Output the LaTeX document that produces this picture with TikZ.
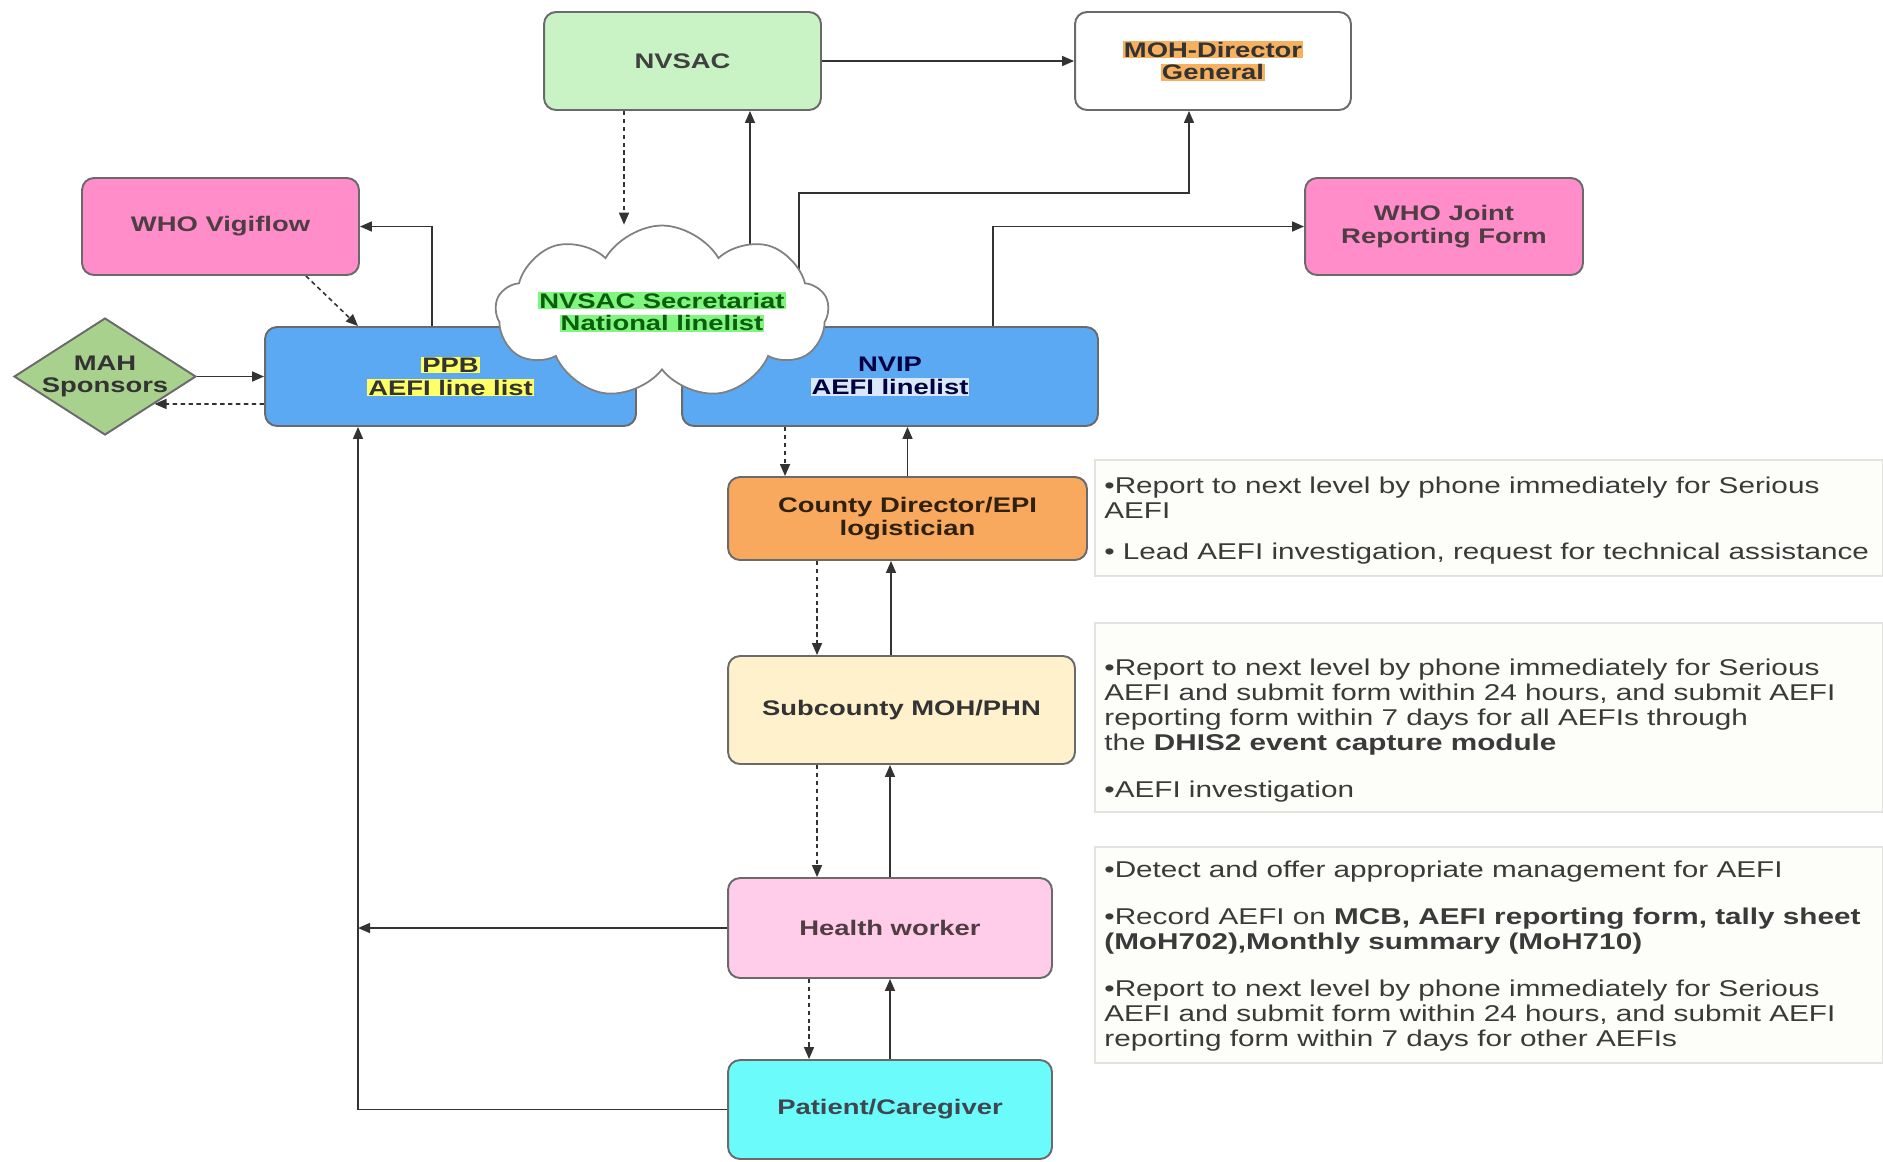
\documentclass[tikz,border=0pt]{standalone}
\usepackage{fontspec}
\setmainfont{Liberation Sans}[FakeStretch=1.3]
\usetikzlibrary{shapes.geometric,shapes.symbols,arrows.meta,backgrounds}

\definecolor{boxline}{HTML}{6A6A6A}
\definecolor{linegray}{HTML}{333333}
\definecolor{nvsacfill}{HTML}{C9F3C5}
\definecolor{whopink}{HTML}{FF8DC9}
\definecolor{mahgreen}{HTML}{A9D18E}
\definecolor{lineblue}{HTML}{5BA9F3}
\definecolor{countyorange}{HTML}{F8A95E}
\definecolor{subcream}{HTML}{FFF1CC}
\definecolor{hwpink}{HTML}{FFCCEA}
\definecolor{patcyan}{HTML}{6CFBFB}
\definecolor{ppbhl}{HTML}{FFFF66}
\definecolor{nviphl}{HTML}{D8E8F8}
\definecolor{mohhl}{HTML}{F5B060}
\definecolor{cloudhl}{HTML}{80F580}
\definecolor{cloudtxt}{HTML}{0B5E0B}
\definecolor{panelline}{HTML}{E2E2DE}
\definecolor{panelfill}{HTML}{FDFDFA}
\definecolor{notegray}{HTML}{3A3A3A}

\newcommand{\hlite}[2]{{\setlength{\fboxsep}{0.6pt}\colorbox{#1}{#2}}}

\begin{document}
\begin{tikzpicture}[x=0.02cm,y=-0.02cm,
	lbl/.style={align=center,font=\fontsize{12}{13}\selectfont\bfseries},
	box/.style={lbl,draw=boxline,line width=1.1pt,rounded corners=0.24cm,inner sep=2pt},
	arr/.style={draw=linegray,line width=0.9pt,-{Triangle[length=2.4mm,width=2mm]}},
	dotarr/.style={arr,dash pattern=on 2.5pt off 2pt},
	panel/.style={draw=panelline,fill=panelfill,line width=0.8pt},
	note/.style={anchor=north west,align=left,inner sep=0pt,text=notegray,font=\fontsize{13}{14.2}\selectfont}]

	\useasboundingbox (0,0) rectangle (1883,1161);

	\node[box,fill=nvsacfill,text=black!75,minimum width=5.54cm,minimum height=1.96cm] (nvsac) at (682.5,61) {NVSAC};
	\node[box,fill=white,text=black!80,minimum width=5.52cm,minimum height=1.96cm] (moh) at (1213,61) {\hlite{mohhl}{MOH-Director}\\\hlite{mohhl}{General}};
	\node[box,fill=whopink,text=black!80!magenta,minimum width=5.54cm,minimum height=1.94cm] (vigi) at (220.5,226.5) {WHO Vigiflow};
	\node[box,fill=whopink,text=black!80!magenta,minimum width=5.56cm,minimum height=1.94cm] (jrf) at (1444,226.5) {WHO Joint\\Reporting Form};

	\node[diamond,draw=boxline,line width=1.1pt,fill=mahgreen,inner sep=0pt,minimum width=3.64cm,minimum height=2.34cm] (mah) at (105,376.5) {};
	\node[lbl,text=black!80] (mahlbl) at (mah.center) {MAH\\Sponsors};

	\node[box,fill=lineblue,text=black!80,minimum width=7.42cm,minimum height=1.98cm] (ppb) at (450.5,376.5) {\hlite{ppbhl}{PPB}\\\hlite{ppbhl}{AEFI line list}};
	\node[box,fill=lineblue,text=black!75!blue,minimum width=8.32cm,minimum height=1.98cm] (nvip) at (890,376.5) {NVIP\\\hlite{nviphl}{AEFI linelist}};

	\node[cloud,cloud puffs=9,cloud puff arc=120,draw=black!50,line width=1pt,fill=white,inner sep=0pt,minimum width=6.66cm,minimum height=3.46cm] (cloud) at (662,312) {};
	\node[lbl,text=cloudtxt] (cloudlbl) at (cloud.center) {\hlite{cloudhl}{NVSAC Secretariat}\\\hlite{cloudhl}{National linelist}};

	\node[box,fill=countyorange,text=black!75!brown,minimum width=7.18cm,minimum height=1.66cm] (county) at (907.5,518.5) {County Director/EPI\\logistician};
	\node[box,fill=subcream,text=black!80,minimum width=6.94cm,minimum height=2.16cm] (subc) at (901.5,710) {Subcounty MOH/PHN};
	\node[box,fill=hwpink,text=black!80!magenta,minimum width=6.48cm,minimum height=2cm] (hw) at (890,928) {Health worker};
	\node[box,fill=patcyan,text=black!80!cyan,minimum width=6.48cm,minimum height=1.98cm] (pat) at (890,1109.5) {Patient/Caregiver};

	\coordinate (ret) at ([xshift=-1.85cm]ppb.south);

	\draw[panel] (1095,460) rectangle (1883,576);
	\draw[panel] (1095,623) rectangle (1883,812);
	\draw[panel] (1095,847) rectangle (1883,1063);

	\node[note] (note1) at (1104,477) {•Report to next level by phone immediately for Serious\\AEFI\\[0.32cm]• Lead AEFI investigation, request for technical assistance};
	\node[note] (note2) at (1104,659) {•Report to next level by phone immediately for Serious\\AEFI and submit form within 24 hours, and submit AEFI\\reporting form within 7 days for all AEFIs through\\the \textbf{DHIS2 event capture module}\\[0.44cm]•AEFI investigation};
	\node[note] (note3) at (1104,861) {•Detect and offer appropriate management for AEFI\\[0.44cm]•Record AEFI on \textbf{MCB, AEFI reporting form, tally sheet}\\\textbf{(MoH702),Monthly summary (MoH710)}\\[0.44cm]•Report to next level by phone immediately for Serious\\AEFI and submit form within 24 hours, and submit AEFI\\reporting form within 7 days for other AEFIs};

	\begin{scope}[on background layer]
	\draw[arr] (nvsac.east) -- (moh.west);
	\draw[dotarr] ([xshift=-1.17cm]nvsac.south) -- ([xshift=-1.17cm]nvsac.south |- cloud.north);
	\draw[arr] ([xshift=1.76cm]cloud.center) -- ([xshift=1.76cm]cloud.center |- nvsac.south);
	\draw[arr] ([xshift=2.74cm]cloud.center) |- ([xshift=-0.48cm,yshift=-1.64cm]moh.south) -- ([xshift=-0.48cm]moh.south);
	\draw[arr] ([xshift=2.06cm]nvip.north) |- (jrf.west);
	\draw[arr] ([xshift=-0.37cm]ppb.north) |- (vigi.east);
	\draw[dotarr] ([xshift=1.71cm]vigi.south) -- ([xshift=-1.85cm]ppb.north);
	\draw[arr] (mah.east) -- (ppb.west);
	\draw[dotarr] ([yshift=-0.55cm]ppb.west) -- (mah.-29);
	\draw[dotarr] ([xshift=-2.1cm]nvip.south) -- ([xshift=-2.1cm]nvip.south |- county.north);
	\draw[arr] (county.north) -- (county.north |- nvip.south);
	\draw[dotarr] ([xshift=-1.81cm]county.south) -- ([xshift=-1.81cm]county.south |- subc.north);
	\draw[arr] ([xshift=-0.21cm]subc.north) -- ([xshift=-0.21cm]subc.north |- county.south);
	\draw[dotarr] ([xshift=-1.69cm]subc.south) -- ([xshift=-1.69cm]subc.south |- hw.north);
	\draw[arr] (hw.north) -- (hw.north |- subc.south);
	\draw[dotarr] ([xshift=-1.62cm]hw.south) -- ([xshift=-1.62cm]hw.south |- pat.north);
	\draw[arr] (pat.north) -- (hw.south);
	\draw[arr] (hw.west) -- (hw.west -| ret);
	\draw[arr] (pat.west) -| (ret);
	\end{scope}

\end{tikzpicture}
\end{document}
